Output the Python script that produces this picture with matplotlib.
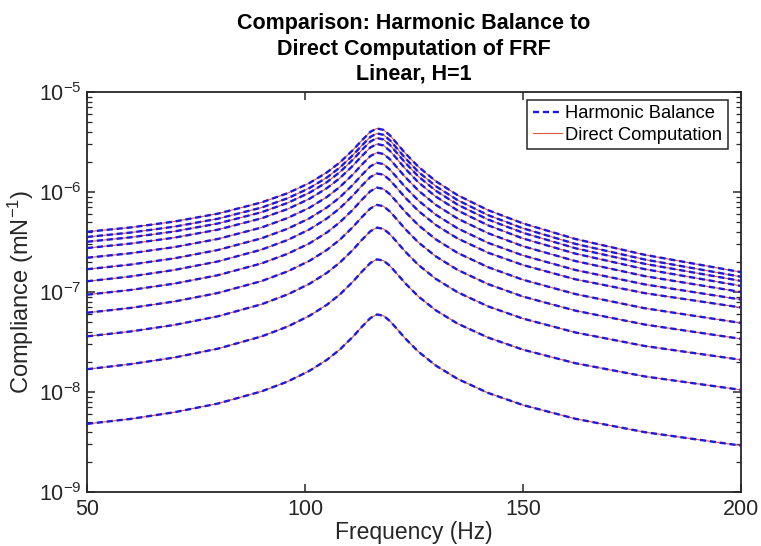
import numpy as np
import matplotlib
matplotlib.use("Agg")
import matplotlib.pyplot as plt
from matplotlib.ticker import LogLocator, FixedLocator, NullLocator, LogFormatterSciNotation

plt.rcParams['font.family'] = ['Liberation Sans', 'DejaVu Sans']
plt.rcParams['mathtext.fontset'] = 'custom'
plt.rcParams['mathtext.rm'] = 'Liberation Sans'
plt.rcParams['mathtext.it'] = 'Liberation Sans:italic'
plt.rcParams['axes.unicode_minus'] = False

# Frequency samples (Hz)
freq = [50, 60, 70, 80, 90, 96, 101, 105, 108, 111, 113, 115, 116.5, 118,
        119.5, 121, 123, 126, 130, 135, 142, 150, 162, 178, 200]

# Compliance of each response point, in units of 1e-7 m/N
c01 = [4.00, 4.42, 5.06, 6.07, 7.86, 9.72, 12.28, 15.67, 19.75, 26.3, 32.7, 40.0, 43.2, 41.8,
       36.8, 30.9, 24.4, 17.9, 12.82, 9.29, 6.58, 4.85, 3.39, 2.35, 1.58]
c02 = [3.55, 3.93, 4.50, 5.40, 6.98, 8.65, 10.93, 13.94, 17.58, 23.4, 29.1, 35.6, 38.5, 37.3,
       32.8, 27.6, 21.8, 15.9, 11.43, 8.29, 5.87, 4.33, 3.03, 2.11, 1.42]
c03 = [3.18, 3.52, 4.03, 4.84, 6.27, 7.77, 9.82, 12.53, 15.8, 21.1, 26.2, 32.0, 34.6, 33.5,
       29.5, 24.8, 19.6, 14.3, 10.3, 7.47, 5.30, 3.91, 2.74, 1.91, 1.29]
c04 = [2.75, 3.05, 3.49, 4.20, 5.45, 6.75, 8.54, 10.91, 13.76, 18.35, 22.8, 27.9, 30.2, 29.2,
       25.7, 21.7, 17.1, 12.5, 9.00, 6.54, 4.64, 3.43, 2.42, 1.69, 1.15]
c05 = [2.20, 2.44, 2.81, 3.39, 4.41, 5.49, 6.95, 8.90, 11.24, 15.0, 18.7, 22.9, 24.8, 24.0,
       21.2, 17.8, 14.1, 10.34, 7.44, 5.42, 3.87, 2.87, 2.04, 1.44, 1.00]
c06 = [1.69, 1.88, 2.17, 2.63, 3.44, 4.29, 5.45, 6.99, 8.84, 11.83, 14.75, 18.07, 19.6, 19.0,
       16.7, 14.1, 11.18, 8.22, 5.93, 4.33, 3.10, 2.32, 1.66, 1.19, 0.84]
c07 = [1.28, 1.43, 1.66, 2.02, 2.65, 3.31, 4.22, 5.43, 6.88, 9.23, 11.52, 14.13, 15.3, 14.9,
       13.1, 11.08, 8.78, 6.47, 4.68, 3.43, 2.47, 1.86, 1.34, 0.973, 0.70]
c08 = [0.94, 1.048, 1.212, 1.471, 1.929, 2.41, 3.06, 3.93, 4.98, 6.67, 8.33, 10.2, 11.07, 10.74,
       9.47, 7.99, 6.33, 4.66, 3.36, 2.46, 1.77, 1.325, 0.954, 0.687, 0.49]
c09 = [0.62, 0.693, 0.803, 0.977, 1.284, 1.606, 2.047, 2.63, 3.335, 4.47, 5.58, 6.85, 7.43, 7.21,
       6.36, 5.37, 4.26, 3.135, 2.27, 1.663, 1.198, 0.900, 0.651, 0.472, 0.340]
c10 = [0.360, 0.403, 0.468, 0.571, 0.753, 0.945, 1.206, 1.552, 1.971, 2.644, 3.305, 4.056, 4.404,
       4.278, 3.777, 3.189, 2.530, 1.867, 1.353, 0.994, 0.718, 0.542, 0.394, 0.288, 0.210]
c11 = [0.169, 0.190, 0.221, 0.271, 0.359, 0.451, 0.577, 0.744, 0.945, 1.270, 1.589, 1.952, 2.120,
       2.061, 1.821, 1.538, 1.222, 0.903, 0.656, 0.483, 0.350, 0.265, 0.194, 0.143, 0.105]
c12 = [0.048, 0.0538, 0.0627, 0.0766, 0.1013, 0.1271, 0.1626, 0.2094, 0.2661, 0.3573, 0.4468,
       0.5487, 0.596, 0.579, 0.5115, 0.432, 0.343, 0.2533, 0.1838, 0.1352, 0.0979, 0.074, 0.054,
       0.0396, 0.0291]

curves = [c01, c02, c03, c04, c05, c06, c07, c08, c09, c10, c11, c12]
unit = 1e-7

x_ticks = [50, 100, 150, 200]
y_major = [1e-9, 1e-8, 1e-7, 1e-6, 1e-5]
title_lines = ["Comparison: Harmonic Balance to", "Direct Computation of FRF", "Linear, H=1"]

fig = plt.figure(figsize=(7.61, 5.46), dpi=100)
ax_left, ax_right, ax_top, ax_bottom = 87, 741, 92, 492
ax = fig.add_axes([ax_left / 761, 1 - ax_bottom / 546,
                   (ax_right - ax_left) / 761, (ax_bottom - ax_top) / 546])

f = np.array(freq)
for i, c in enumerate(curves):
    y = np.array(c) * unit
    ax.plot(f, y, color='#e8553e', lw=0.8, zorder=2,
            label='Direct Computation' if i == 0 else None)
    ax.plot(f, y, color='#1a1ae0', lw=1.7, ls=(0, (2.6, 1.6)), zorder=3,
            label='Harmonic Balance' if i == 0 else None)

ax.set_yscale('log')
ax.set_xlim(50, 200)
ax.set_ylim(1e-9, 1e-5)
ax.xaxis.set_major_locator(FixedLocator(x_ticks))
ax.xaxis.set_minor_locator(NullLocator())
ax.yaxis.set_major_locator(FixedLocator(y_major))
ax.yaxis.set_minor_locator(LogLocator(base=10, subs=np.arange(2, 10), numticks=20))
ax.yaxis.set_major_formatter(LogFormatterSciNotation())

for s in ax.spines.values():
    s.set_linewidth(1.3)
    s.set_color('#262626')
ax.tick_params(which='both', direction='in', top=True, right=True, colors='#262626',
               labelcolor='#262626', labelsize=15.5)
ax.tick_params(which='major', length=6, width=1.1)
ax.tick_params(which='minor', length=3.5, width=0.9)
ax.tick_params(axis='x', pad=5)
ax.tick_params(axis='y', pad=4)

ax.set_xlabel('Frequency (Hz)', fontsize=16.5, color='#262626', labelpad=1)
ax.set_ylabel('Compliance (mN$^{-1}$)', fontsize=17, color='#262626', labelpad=2)
ax.set_title('\n'.join(title_lines), fontsize=15.5, fontweight='bold', color='#000000',
             linespacing=1.25, pad=9)

handles, labels = ax.get_legend_handles_labels()
order = [labels.index('Harmonic Balance'), labels.index('Direct Computation')]
leg = ax.legend([handles[k] for k in order], [labels[k] for k in order],
                loc='upper right', bbox_to_anchor=(0.985, 0.99), fontsize=13.2,
                frameon=True, fancybox=False, framealpha=1, edgecolor='#262626',
                handlelength=1.6, handletextpad=0.15, borderpad=0.3, labelspacing=0.25,
                borderaxespad=0.2)
leg.get_frame().set_linewidth(1.1)

fig.savefig('out.png', dpi=100, facecolor='white')
